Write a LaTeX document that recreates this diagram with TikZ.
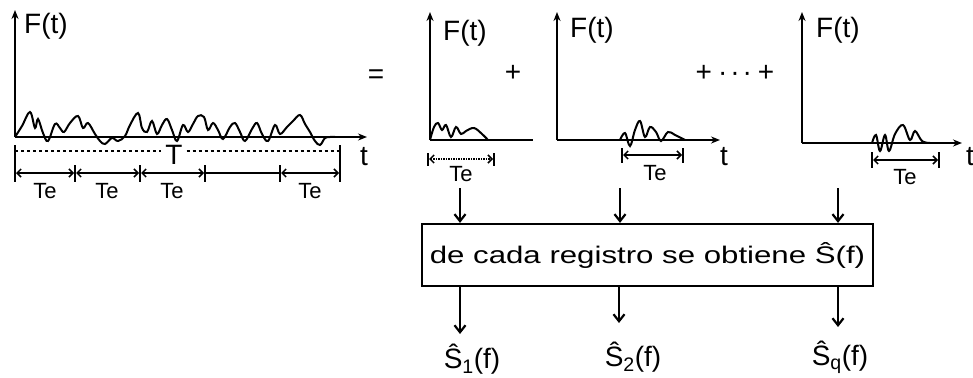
\documentclass[tikz,border=0pt]{standalone}
\usepackage{fontspec}
\setmainfont{Liberation Sans}
\usetikzlibrary{arrows.meta}
\begin{document}
\begin{tikzpicture}[x=1pt,y=-1pt,
  ax/.style={line width=2.8pt, -{Stealth[length=9pt,width=7pt]}},
  axn/.style={line width=2.8pt},
  wave/.style={line width=2pt},
  dim/.style={line width=1.5pt, {Straight Barb[length=4pt,width=8pt]}-{Straight Barb[length=4pt,width=8pt]}},
  tick/.style={line width=1.8pt},
  lab/.style={font=\fontsize{28}{28}\selectfont, inner sep=0pt},
  telab/.style={font=\fontsize{22}{22}\selectfont, inner sep=0pt},
  flow/.style={line width=2.2pt, -{Straight Barb[length=7pt,width=11pt]}},
]
\useasboundingbox (0,0) rectangle (973,377);

% ---------- graph 1 ----------
\draw[ax] (15,137) -- (15,10);
\draw[ax] (15,137) -- (367,137);
\node[lab, anchor=west] (F1) at (24,26) {F(t)};
\draw[wave] plot[smooth, tension=0.6] coordinates {(15,137) (22,126) (30,112) (35,128) (38,119) (43,133) (48,141) (55,124) (60,128) (64,132) (70,123) (78,116) (83,128) (88,123) (95,134) (100,141) (105,144) (112,138) (118,141) (125,136) (130,125) (138,113) (142,128) (147,132) (152,121) (157,134) (162,125) (167,119) (172,130) (177,141) (183,125) (188,132) (193,124) (198,116) (204,117) (208,130) (213,123) (218,130) (223,139) (230,127) (235,123) (240,132) (245,141) (252,129) (257,123) (262,134) (268,141) (275,125) (280,134) (287,127) (293,121) (300,115) (305,124) (310,132) (315,141) (320,145) (325,138) (330,137) (335,137)};
\node[lab] (t1) at (364,157) {t};
\node[lab, outer sep=4pt] (T) at (174,155) {T};
\draw[tick, dashed] (15,151) -- (T.west |- 0,151);
\draw[tick, dashed] (T.east |- 0,151) -- (340,151);
\foreach \x/\a in {15/145,75/165,140/165,205/165,280/165,340/145}
  \draw[tick] (\x,\a) -- (\x,182);
\draw[dim] (16,173) -- (74,173);
\draw[dim] (76,173) -- (139,173);
\draw[dim] (141,173) -- (204,173);
\draw[tick] (206,173) -- (279,173);
\draw[dim] (281,173) -- (339,173);
\node[telab] (te1) at (45,191) {Te};
\node[telab] (te2) at (107,191) {Te};
\node[telab] (te3) at (172,191) {Te};
\node[telab] (te4) at (310,191) {Te};

\node[lab] (eq) at (376,77) {=};

% ---------- graph a ----------
\draw[ax] (430,140) -- (430,12);
\draw[axn] (430,140) -- (533,140);
\node[lab, anchor=west] (Fa) at (443,33) {F(t)};
\draw[wave] plot[smooth, tension=0.6] coordinates {(430,140) (434,127) (438,123) (442,130) (446,125) (451,137) (456,127) (461,134) (466,131) (474,128) (482,134) (488,140)};
\draw[tick] (428,153) -- (428,166);
\draw[tick] (494,153) -- (494,166);
\draw[line width=1.5pt, densely dotted, {Straight Barb[length=4pt,width=8pt]}-{Straight Barb[length=4pt,width=8pt]}] (429,159) -- (493,159);
\node[telab] (tea) at (461,174) {Te};
\node[lab] (p1) at (513,73) {+};

% ---------- graph b ----------
\draw[ax] (557,140) -- (557,12);
\draw[ax] (557,140) -- (720,140);
\node[lab, anchor=west] (Fb) at (570,30) {F(t)};
\draw[wave] plot[smooth, tension=0.6] coordinates {(620,140) (625,133) (630,146) (635,130) (640,121) (645,137) (650,127) (656,132) (661,141) (668,132) (675,135) (685,140)};
\draw[tick] (622,148) -- (622,163);
\draw[tick] (683,148) -- (683,163);
\draw[dim] (623,155) -- (682,155);
\node[telab] (teb) at (655,173) {Te};
\node[lab] (t2) at (724,157) {t};
\node[lab] (p2) at (735,73) {+\hspace{6pt}·\hspace{3pt}·\hspace{3pt}·\hspace{6pt}+};

% ---------- graph c ----------
\draw[ax] (802,143) -- (802,12);
\draw[ax] (802,143) -- (962,143);
\node[lab, anchor=west] (Fc) at (816,30) {F(t)};
\draw[wave] plot[smooth, tension=0.6] coordinates {(872,143) (876,135) (880,151) (885,135) (889,151) (895,134) (903,125) (910,140) (915,131) (922,141) (930,143)};
\draw[tick] (872,152) -- (872,168);
\draw[tick] (939,152) -- (939,168);
\draw[dim] (873,160) -- (938,160);
\node[telab] (tec) at (905,177) {Te};
\node[lab] (t3) at (970,157) {t};

% ---------- box ----------
\node[draw, line width=2.2pt, minimum width=451pt, minimum height=62pt, inner sep=0pt,
      font=\fontsize{24}{24}\selectfont] (box) at (647.5,255)
      {\scalebox{1.3}[1]{de cada registro se obtiene Ŝ(f)}};

\coordinate (i1) at (460,188);
\coordinate (i2) at (620,188);
\coordinate (i3) at (838,188);
\draw[flow] (i1) -- (i1 |- box.north);
\draw[flow] (i2) -- (i2 |- box.north);
\draw[flow] (i3) -- (i3 |- box.north);

\coordinate (o1) at (460,334);
\coordinate (o2) at (619,323);
\coordinate (o3) at (838,327);
\draw[flow] (o1 |- box.south) -- (o1);
\draw[flow] (o2 |- box.south) -- (o2);
\draw[flow] (o3 |- box.south) -- (o3);

\node[lab] (s1) at (472,359) {Ŝ\textsubscript{1}(f)};
\node[lab] (s2) at (633,357) {Ŝ\textsubscript{2}(f)};
\node[lab] (s3) at (840,357) {Ŝ\textsubscript{q}(f)};
\end{tikzpicture}
\end{document}
